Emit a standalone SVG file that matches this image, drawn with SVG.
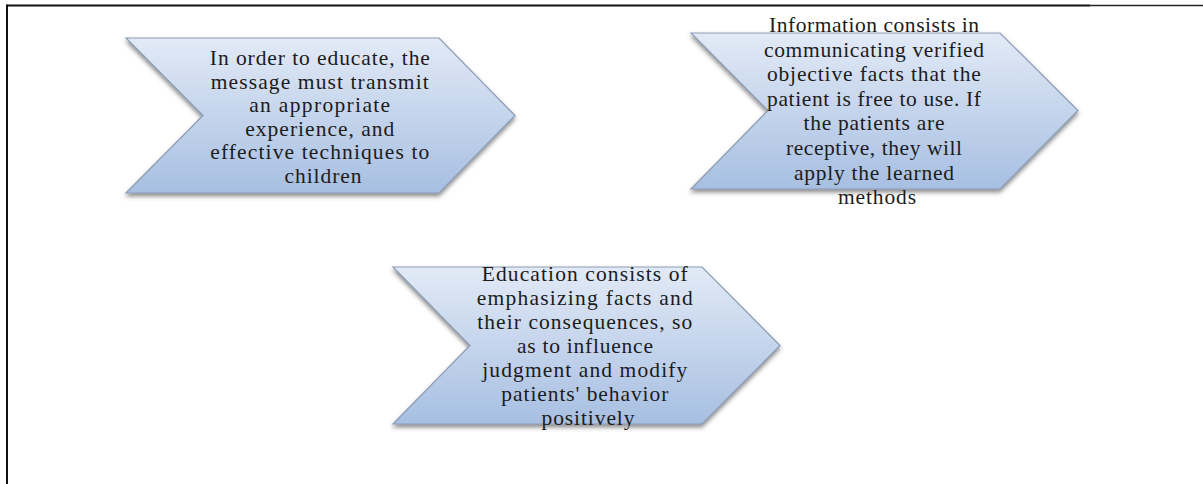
<svg xmlns="http://www.w3.org/2000/svg" width="1203" height="484" viewBox="0 0 1203 484">
<style>
.chev{fill:url(#grad);stroke:#8d9db6;stroke-width:1.2;filter:url(#shadow)}
.t{font-family:"Liberation Serif","Times New Roman",serif;font-size:21.5px;fill:#1c1c1c;text-anchor:middle}
.frame{stroke:#111;fill:none}
</style>
<defs>
<linearGradient id="grad" x1="0" y1="0" x2="0" y2="1">
<stop offset="0" stop-color="#e2eaf6"/>
<stop offset="1" stop-color="#a7bfe2"/>
</linearGradient>
<filter id="shadow" x="-10%" y="-10%" width="120%" height="130%">
<feDropShadow dx="0" dy="3" stdDeviation="2" flood-color="#444" flood-opacity="0.6"/>
</filter>
</defs>
<rect width="1203" height="484" fill="#fff"/>
<g id="frame">
<line class="frame" x1="7" y1="5.5" x2="1090" y2="5.5" stroke-width="2.2"/>
<line x1="1090" y1="5.5" x2="1203" y2="5.5" stroke="#2a2426" stroke-width="1.6"/>
<line class="frame" x1="7" y1="4.5" x2="7" y2="484" stroke-width="2"/>
</g>
<g id="connectors"></g>
<g id="node1">
<polygon class="chev" points="126,38 439,38 515,115.5 439,193 126,193 203,115.5"/>
<text class="t">
<tspan x="323" y="65" textLength="220" lengthAdjust="spacing">In order to educate, the</tspan>
<tspan x="323" y="88.5" textLength="218" lengthAdjust="spacing">message must transmit</tspan>
<tspan x="323" y="112" textLength="141" lengthAdjust="spacing">an appropriate</tspan>
<tspan x="323" y="135.5" textLength="149" lengthAdjust="spacing">experience, and</tspan>
<tspan x="323" y="159" textLength="219" lengthAdjust="spacing">effective techniques to</tspan>
<tspan x="323" y="182.5" textLength="77" lengthAdjust="spacing">children</tspan>
</text>
</g>
<g id="node2">
<polygon class="chev" points="691,33 1000,33 1078,110.5 1000,189 691,189 768,110.5"/>
<text class="t">
<tspan x="877" y="32" textLength="210" lengthAdjust="spacing">Information consists in</tspan>
<tspan x="877" y="56.6" textLength="220" lengthAdjust="spacing">communicating verified</tspan>
<tspan x="877" y="81.2" textLength="214" lengthAdjust="spacing">objective facts that the</tspan>
<tspan x="877" y="105.8" textLength="214" lengthAdjust="spacing">patient is free to use. If</tspan>
<tspan x="877" y="130.4" textLength="141" lengthAdjust="spacing">the patients are</tspan>
<tspan x="877" y="155" textLength="176" lengthAdjust="spacing">receptive, they will</tspan>
<tspan x="877" y="179.6" textLength="160" lengthAdjust="spacing">apply the learned</tspan>
<tspan x="877" y="204.2" textLength="78" lengthAdjust="spacing">methods</tspan>
</text>
</g>
<g id="node3">
<polygon class="chev" points="393,267 702,267 780,345.5 702,424 393,424 470,345.5"/>
<text class="t">
<tspan x="588" y="281" textLength="206" lengthAdjust="spacing">Education consists of</tspan>
<tspan x="588" y="305" textLength="216" lengthAdjust="spacing">emphasizing facts and</tspan>
<tspan x="588" y="329" textLength="215" lengthAdjust="spacing">their consequences, so</tspan>
<tspan x="588" y="353" textLength="136" lengthAdjust="spacing">as to influence</tspan>
<tspan x="588" y="377" textLength="205" lengthAdjust="spacing">judgment and modify</tspan>
<tspan x="588" y="401" textLength="167" lengthAdjust="spacing">patients' behavior</tspan>
<tspan x="588" y="425" textLength="93" lengthAdjust="spacing">positively</tspan>
</text>
</g>
</svg>
